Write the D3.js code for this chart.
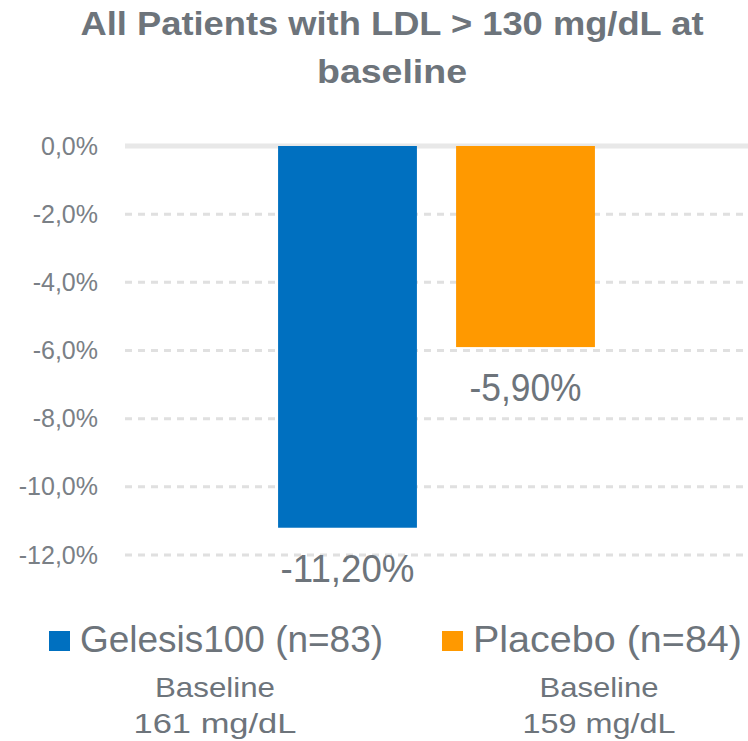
<!DOCTYPE html>
<html>
<head>
<meta charset="UTF-8">
<title>LDL change</title>
<script src="https://d3js.org/d3.v7.min.js"></script>
<style>
  body { margin: 0; background: #fff; }
  text { font-family: "Liberation Sans", Arial, sans-serif; }
</style>
</head>
<body>
<script>
var series = ["Gelesis100 (n=83)", "Placebo (n=84)"];
var values = [-11.2, -5.9];
var valueLabels = ["-11,20%", "-5,90%"];
var colors = ["#0070c0", "#ff9900"];
var yTicks = [0, -2, -4, -6, -8, -10, -12];
var baselineLines = [["Baseline", "161  mg/dL"], ["Baseline", "159 mg/dL"]];
var titleLines = ["All Patients with LDL > 130 mg/dL at", "baseline"];

var w = 748, h = 741;
var plotLeft = 125, plotRight = 748, plotTop = 146, plotBottom = 555;
var textColor = "#6d747b";

var svg = d3.select("body").append("svg").attr("width", w).attr("height", h);

// title, stretched to the width of the wide original face
var titleLen = [623, 150];
svg.selectAll("text.title")
    .data(titleLines)
    .enter()
    .append("text")
    .attr("class", "title")
    .attr("x", 392)
    .attr("y", function (d, i) { return 35 + i * 48; })
    .attr("text-anchor", "middle")
    .attr("font-size", 34)
    .attr("font-weight", "bold")
    .attr("fill", textColor)
    .attr("textLength", function (d, i) { return titleLen[i]; })
    .attr("lengthAdjust", "spacingAndGlyphs")
    .text(function (d) { return d; });

var y = d3.scaleLinear().domain([0, -12]).range([plotTop, plotBottom]);
var x = d3.scaleBand().domain(series).range([plotLeft, plotRight])
    .paddingInner(0.22).paddingOuter(0.86);

// gridlines
svg.selectAll("line.grid")
    .data(yTicks)
    .enter()
    .append("line")
    .attr("x1", plotLeft)
    .attr("x2", plotRight)
    .attr("y1", function (d) { return y(d); })
    .attr("y2", function (d) { return y(d); })
    .attr("stroke", function (d) { return d === 0 ? "#e8e8e8" : "#e0e0e0"; })
    .attr("stroke-width", function (d) { return d === 0 ? 5 : 3; })
    .attr("stroke-dasharray", function (d) { return d === 0 ? null : "7,6"; });

var yAxis = d3.axisLeft(y).tickValues(yTicks).tickSize(0).tickPadding(0)
    .tickFormat(function (d) { return d.toFixed(1).replace(".", ",") + "%"; });
var ga = svg.append("g").attr("transform", "translate(98,0)").call(yAxis);
ga.select(".domain").remove();
ga.selectAll("text").attr("font-size", 25).attr("fill", "#7a8086")
    .style("font-family", "Liberation Sans, Arial, sans-serif");

svg.selectAll("rect.bar")
    .data(values)
    .enter()
    .append("rect")
    .attr("class", "bar")
    .attr("x", function (d, i) { return x(series[i]); })
    .attr("y", y(0))
    .attr("width", x.bandwidth())
    .attr("height", function (d) { return y(d) - y(0); })
    .attr("fill", function (d, i) { return colors[i]; });

var labelLen = [134, 112];
svg.selectAll("text.vlabel")
    .data(values)
    .enter()
    .append("text")
    .attr("class", "vlabel")
    .attr("x", function (d, i) { return x(series[i]) + x.bandwidth() / 2; })
    .attr("y", function (d) { return y(d) + 54; })
    .attr("text-anchor", "middle")
    .attr("font-size", 38)
    .attr("fill", textColor)
    .attr("textLength", function (d, i) { return labelLen[i]; })
    .attr("lengthAdjust", "spacingAndGlyphs")
    .text(function (d, i) { return valueLabels[i]; });

// legend
var legendX = [49, 442];
var legendLen = [303, 269];
var lg = svg.selectAll("g.legend")
    .data(series)
    .enter()
    .append("g")
    .attr("class", "legend")
    .attr("transform", function (d, i) { return "translate(" + legendX[i] + ",631)"; });
lg.append("rect").attr("width", 21).attr("height", 20)
    .attr("fill", function (d, i) { return colors[i]; });
lg.append("text").attr("x", 31).attr("y", 21)
    .attr("font-size", 37).attr("fill", textColor)
    .attr("textLength", function (d, i) { return legendLen[i]; })
    .attr("lengthAdjust", "spacingAndGlyphs")
    .text(function (d) { return d; });

// baseline notes
var noteX = [215, 599];
var noteLen = [[120, 163], [119, 153]];
var notes = svg.selectAll("g.note")
    .data(baselineLines)
    .enter()
    .append("g")
    .attr("class", "note")
    .attr("transform", function (d, i) { return "translate(" + noteX[i] + ",0)"; });
notes.selectAll("text")
    .data(function (d, i) {
        return d.map(function (t, j) { return { t: t, len: noteLen[i][j] }; });
    })
    .enter()
    .append("text")
    .attr("x", 0)
    .attr("y", function (d, i) { return 697 + i * 36; })
    .attr("text-anchor", "middle")
    .attr("font-size", 28)
    .attr("fill", textColor)
    .attr("textLength", function (d) { return d.len; })
    .attr("lengthAdjust", "spacingAndGlyphs")
    .text(function (d) { return d.t; });
</script>
</body>
</html>
